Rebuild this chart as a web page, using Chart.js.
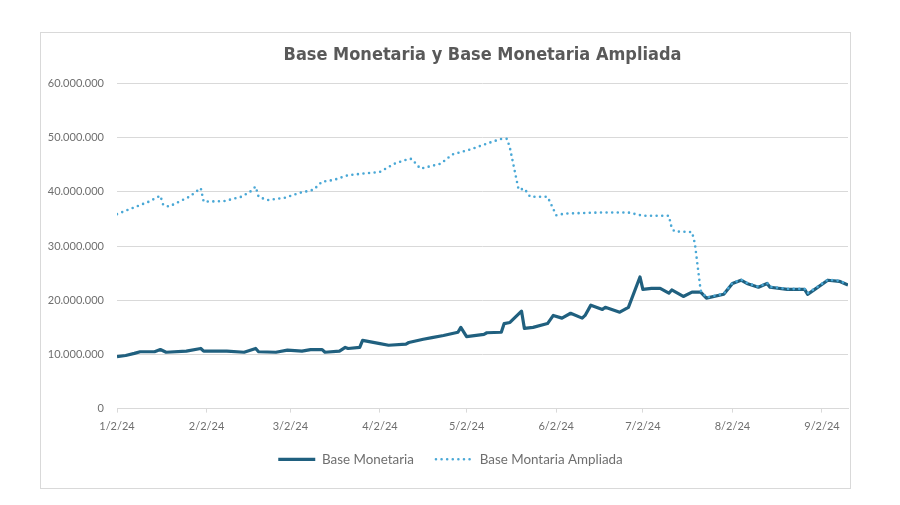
<!DOCTYPE html>
<html>
<head>
<meta charset="utf-8">
<script src="https://cdn.jsdelivr.net/npm/chart.js@4.4.1/dist/chart.umd.min.js"></script>
<style>
  html, body { margin: 0; padding: 0; background: #ffffff; width: 900px; height: 505px; overflow: hidden; }
  #frame { position: absolute; left: 40px; top: 32px; width: 809px; height: 455px; border: 1px solid #d9d9d9; background: #fff; }
  canvas { display: block; }
</style>
</head>
<body>
<div id="frame"><canvas id="c" width="809" height="455"></canvas></div>
<script>
// ---- Data (values in millions) ----
const baseDates = [
  '2024-01-02','2024-01-05','2024-01-08','2024-01-10','2024-01-15','2024-01-17','2024-01-19','2024-01-26','2024-01-31','2024-02-01',
  '2024-02-09','2024-02-15','2024-02-19','2024-02-20','2024-02-26','2024-03-01','2024-03-06','2024-03-09','2024-03-13','2024-03-14',
  '2024-03-19','2024-03-21','2024-03-22','2024-03-26','2024-03-27','2024-04-02','2024-04-05','2024-04-11','2024-04-12','2024-04-17',
  '2024-04-20','2024-04-24','2024-04-29','2024-04-30','2024-05-02','2024-05-08','2024-05-09','2024-05-14','2024-05-15','2024-05-17',
  '2024-05-21','2024-05-22','2024-05-25','2024-05-30','2024-06-01','2024-06-04','2024-06-07','2024-06-11','2024-06-12','2024-06-14',
  '2024-06-18','2024-06-19','2024-06-24','2024-06-27','2024-07-01','2024-07-02','2024-07-05','2024-07-08','2024-07-11','2024-07-12',
  '2024-07-16','2024-07-19','2024-07-22','2024-07-24','2024-07-30','2024-08-02','2024-08-05','2024-08-07','2024-08-11','2024-08-14',
  '2024-08-15','2024-08-21','2024-08-27','2024-08-28','2024-08-31','2024-09-04','2024-09-08','2024-09-11'
];
const baseMonetaria = [
  9.6, 9.8, 10.2, 10.5, 10.5, 10.9, 10.4, 10.6, 11.1, 10.6,
  10.6, 10.4, 11.1, 10.5, 10.4, 10.8, 10.6, 10.9, 10.9, 10.4,
  10.6, 11.3, 11.1, 11.3, 12.6, 12.0, 11.7, 11.9, 12.2, 12.8,
  13.1, 13.5, 14.1, 15.0, 13.3, 13.7, 14.0, 14.1, 15.7, 15.9,
  18.0, 14.8, 15.0, 15.7, 17.2, 16.7, 17.6, 16.7, 17.2, 19.1,
  18.3, 18.7, 17.8, 18.7, 24.3, 22.0, 22.2, 22.2, 21.3, 21.9,
  20.7, 21.5, 21.5, 20.4, 21.1, 23.1, 23.7, 23.1, 22.4, 23.1,
  22.4, 22.0, 22.0, 21.1, 22.2, 23.7, 23.5, 22.8
];
const ampliadaDates = [
  '2024-01-02','2024-01-13','2024-01-17','2024-01-18','2024-01-20','2024-01-27','2024-01-31','2024-02-01','2024-02-08','2024-02-14',
  '2024-02-17','2024-02-19','2024-02-20','2024-02-23','2024-02-29','2024-03-05','2024-03-10','2024-03-13','2024-03-17','2024-03-22',
  '2024-04-02','2024-04-07','2024-04-12','2024-04-13','2024-04-16','2024-04-23','2024-04-27','2024-05-03','2024-05-10','2024-05-14',
  '2024-05-16','2024-05-17','2024-05-20','2024-05-22','2024-05-24','2024-05-30','2024-05-31','2024-06-02','2024-06-05','2024-06-17',
  '2024-06-27','2024-07-02','2024-07-11','2024-07-12','2024-07-13','2024-07-19','2024-07-20','2024-07-22','2024-07-24','2024-07-30',
  '2024-08-02','2024-08-05','2024-08-07','2024-08-11','2024-08-14','2024-08-15','2024-08-21','2024-08-27','2024-08-28','2024-08-31',
  '2024-09-04','2024-09-08','2024-09-11'
];
const baseAmpliada = [
  35.9, 38.2, 39.3, 37.6, 37.3, 39.1, 40.7, 38.2, 38.3, 39.1,
  40.0, 41.0, 39.1, 38.5, 38.9, 39.8, 40.4, 41.9, 42.2, 43.1,
  43.7, 45.2, 46.1, 46.1, 44.3, 45.2, 46.9, 47.8, 49.1, 49.8,
  49.8, 48.1, 40.4, 40.6, 39.1, 39.1, 38.0, 35.7, 36.0, 36.2,
  36.2, 35.6, 35.6, 33.3, 32.7, 32.6, 30.5, 21.8, 20.5, 21.2,
  23.2, 23.8, 23.2, 22.5, 23.2, 22.5, 22.1, 22.1, 21.3, 22.3,
  23.8, 23.6, 22.9
];
const tickDates  = ['2024-01-02','2024-02-02','2024-03-02','2024-04-02','2024-05-02','2024-06-02','2024-07-02','2024-08-02','2024-09-02'];
const tickLabels = ['1/2/24','2/2/24','3/2/24','4/2/24','5/2/24','6/2/24','7/2/24','8/2/24','9/2/24'];
const yTicks = [0, 10, 20, 30, 40, 50, 60];
const xEndDate = '2024-09-11';

// ---- helpers ----
const origin = Date.UTC(2024, 0, 2);
function dayOf(s) { const p = s.split('-').map(Number); return Math.round((Date.UTC(p[0], p[1]-1, p[2]) - origin) / 86400000); }
function pts(dates, vals) { return dates.map((d, i) => ({ x: dayOf(d), y: vals[i] })); }
function fmtMillions(v) { return v === 0 ? '0' : (v * 1000000).toLocaleString('de-DE'); }

const txtGray = '#6f6f6f';
const gridGray = '#d9d9d9';

// nudge legend slightly to the right, as in the reference
const legendNudge = {
  id: 'legendNudge',
  afterLayout(chart) {
    if (chart.legend) { chart.legend.left += 6; chart.legend.right += 6; }
  }
};

new Chart(document.getElementById('c'), {
  type: 'line',
  plugins: [legendNudge],
  data: {
    datasets: [
      {
        label: 'Base Monetaria',
        data: pts(baseDates, baseMonetaria),
        borderColor: '#20607f',
        backgroundColor: '#20607f',
        borderWidth: 3.2,
        pointRadius: 0,
        pointStyle: 'line',
        tension: 0,
        borderJoinStyle: 'round',
        order: 1
      },
      {
        label: 'Base Montaria Ampliada',
        data: pts(ampliadaDates, baseAmpliada),
        borderColor: '#4aa8d6',
        backgroundColor: '#4aa8d6',
        borderWidth: 2.6,
        borderDash: [0, 5.6],
        borderCapStyle: 'round',
        pointRadius: 0,
        pointStyle: 'line',
        tension: 0,
        order: 0
      }
    ]
  },
  options: {
    responsive: false,
    animation: false,
    layout: { padding: { left: 0, right: 2, top: 0, bottom: 12 } },
    plugins: {
      title: {
        display: true,
        text: 'Base Monetaria y Base Monetaria Ampliada',
        fullSize: false,
        color: '#595959',
        font: { family: "'Liberation Sans Narrow', 'DejaVu Sans Condensed', 'Roboto', sans-serif", size: 18, weight: 'bold' },
        padding: { top: 12, bottom: 17 }
      },
      legend: {
        position: 'bottom',
        labels: {
          color: txtGray,
          font: { family: 'Lato', size: 13.4 },
          usePointStyle: true,
          pointStyleWidth: 37,
          boxHeight: 8,
          padding: 22,
          sort: (a, b) => a.datasetIndex - b.datasetIndex,
          generateLabels: (chart) => {
            const items = Chart.defaults.plugins.legend.labels.generateLabels(chart);
            items.forEach(it => {
              const ds = chart.data.datasets[it.datasetIndex];
              it.lineDash = ds.borderDash || [];
              it.lineCap = ds.borderCapStyle || 'butt';
              it.lineWidth = ds.borderWidth;
              it.strokeStyle = ds.borderColor;
            });
            return items;
          }
        }
      },
      tooltip: { enabled: false }
    },
    scales: {
      x: {
        type: 'linear',
        min: 0,
        max: dayOf(xEndDate),
        afterBuildTicks: (scale) => { scale.ticks = tickDates.map(d => ({ value: dayOf(d) })); },
        afterFit: (scale) => { scale.height = 22; },
        ticks: {
          autoSkip: false, maxRotation: 0, padding: 7,
          color: txtGray, font: { family: 'Lato', size: 11 },
          callback: (v, i) => tickLabels[i]
        },
        grid: { drawOnChartArea: false, drawTicks: true, tickLength: 4, color: gridGray },
        border: { display: true, color: gridGray, width: 1 }
      },
      y: {
        min: 0, max: 60,
        afterBuildTicks: (scale) => { scale.ticks = yTicks.map(v => ({ value: v })); },
        afterFit: (scale) => { scale.width = 76; },
        ticks: {
          padding: 13, color: txtGray, font: { family: 'Lato', size: 11 },
          callback: (v) => fmtMillions(v)
        },
        grid: { color: gridGray, drawTicks: false, lineWidth: 1 },
        border: { display: false }
      }
    }
  }
});
</script>
</body>
</html>
